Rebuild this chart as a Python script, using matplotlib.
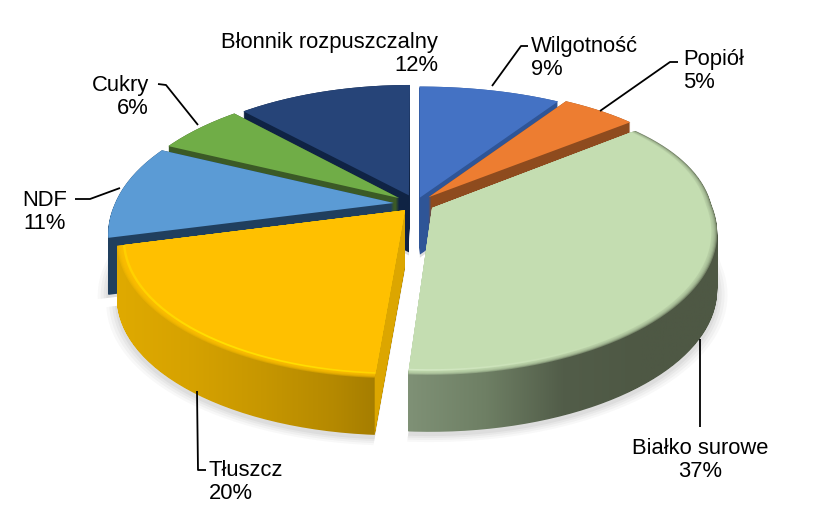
import numpy as np
import matplotlib
matplotlib.use("Agg")
import matplotlib.pyplot as plt
from matplotlib.transforms import Transform, Affine2D
from matplotlib.path import Path
from matplotlib.patches import PathPatch, Polygon
from matplotlib.colors import LinearSegmentedColormap

plt.rcParams['font.family'] = ['Liberation Sans', 'DejaVu Sans']

categories = ["Wilgotność", "Popiół", "Białko surowe", "Tłuszcz", "NDF", "Cukry", "Błonnik rozpuszczalny"]
values = [9, 5, 37, 20, 11, 6, 12]
top_colors = ["#4472C4", "#ED7D31", "#C4DDB1", "#FFC000", "#5B9BD5", "#70AD47", "#264478"]
side_colors = ["#2F5597", "#8E4B1E", "#535E49", "#C99A00", "#203F5E", "#3B5A26", "#0F2344"]
explode = [0.05, 0.068, 0.065, 0.06, 0.08, 0.075, 0.07]

CX, CY, RX, CC, K, KX_RIGHT, FRONT_SHEAR, DEPTH = 416, 204, 279, 134, 0.187, 0.09, 6, 57


def flatten(path):
    """Dense polygon of a wedge path given in unit-radius data coordinates."""
    return path.transformed(Affine2D().scale(400)).to_polygons(closed_only=True)[0] / 400


class Persp(Transform):
    input_dims = output_dims = 2
    is_separable = False
    has_inverse = False

    def __init__(self, dz=0):
        super().__init__()
        self.dz = dz

    def transform_non_affine(self, xy):
        xy = np.asarray(xy, float)
        x, y = xy[:, 0], xy[:, 1]
        w = 1 + K * y
        wx = np.where((x > 0) & (y > 0), 1 + KX_RIGHT * y, w)
        shear = FRONT_SHEAR * np.minimum(y, 0)
        return np.column_stack((CX + RX * x / wx + shear, CY - CC * y / w + self.dz))

    def transform_path_non_affine(self, path):
        return Path(self.transform_non_affine(flatten(path)), closed=True)


fig = plt.figure(figsize=(8.2, 5.11), dpi=100)
ax = fig.add_axes([0, 0, 1, 1])
wedges, _ = ax.pie(values, colors=top_colors, explode=explode, startangle=90,
                   counterclock=False, wedgeprops={"linewidth": 0})
ax.set_aspect("auto")
ax.set_xlim(0, 820)
ax.set_ylim(511, 0)
ax.axis("off")


def outline(w):
    return flatten(w.get_path())


def sweep_path(poly):
    verts, codes = [], []
    for d in np.arange(0, DEPTH + 0.5, 1.0):
        p = Persp(d).transform_non_affine(poly)
        verts.append(p)
        codes += [Path.MOVETO] + [Path.LINETO] * (len(p) - 2) + [Path.CLOSEPOLY]
    return Path(np.vstack(verts), codes)


# soft shadow below every slice
for w in wedges:
    for grow, a in [(1.035, 0.035), (1.025, 0.045), (1.015, 0.05), (1.006, 0.06)]:
        w.set_radius(grow)
        poly = outline(w)
        w.set_radius(1.0)
        p = Persp(DEPTH + 3).transform_non_affine(poly)
        ax.add_patch(Polygon(p, closed=True, fc="#404040", ec="none", alpha=a, zorder=1))

order = [6, 0, 1, 5, 4, 3, 2]
grad_stops = {
    2: ["#7F9176", "#6E7F64", "#525D49", "#4E5844", "#4E5844"],
    3: ["#DFAA00", "#D6A200", "#C79700", "#B58900", "#9A7500"],
}
cut_colors = {3: "#DCA600"}
rim_stops = {2: ["#D4E9C4", "#CBE2B9", "#C4DDB1", "#C4DDB1"], 3: ["#FFD000", "#FFE000", "#FFDD00", "#FFD000"]}

for rank, i in enumerate(order):
    w = wedges[i]
    base = 10 + 10 * rank
    poly = outline(w)
    path = sweep_path(poly)
    if i in grad_stops:
        cmap = LinearSegmentedColormap.from_list("g", grad_stops[i])
        x0, x1 = path.vertices[:, 0].min(), path.vertices[:, 0].max()
        y0, y1 = path.vertices[:, 1].min(), path.vertices[:, 1].max()
        im = ax.imshow(np.linspace(0, 1, 256)[None, :], cmap=cmap, aspect="auto",
                       extent=(x0, x1, y1, y0), zorder=base + 1)
        im.set_clip_path(path, ax.transData)
    else:
        ax.add_patch(PathPatch(path, fc=side_colors[i], ec="none", zorder=base + 1))
    if i in cut_colors:
        cx, cy = w.center
        t = np.deg2rad(w.theta2)
        pt = (cx + np.cos(t), cy + np.sin(t))
        q = np.array([(cx, cy), pt])
        a, b = Persp(0).transform_non_affine(q), Persp(DEPTH).transform_non_affine(q)
        ax.add_patch(Polygon(np.vstack((a, b[::-1])), closed=True, fc=cut_colors[i],
                             ec="none", zorder=base + 2))
    # top face: soft bevel towards the rim
    trans = Persp(0) + ax.transData
    if i in grad_stops:
        for n, r in enumerate(np.linspace(1.0, 0.982, 6)):
            w.set_radius(r)
            p = Persp(0).transform_non_affine(outline(w))
            ax.add_patch(Polygon(p, closed=True, fc=top_colors[i], ec="none", alpha=0.35,
                                 zorder=base + 3 + n * 0.01))
        w.set_radius(0.98)
        p = Persp(0).transform_non_affine(outline(w))
        clip = Path(p, closed=True)
        cmap = LinearSegmentedColormap.from_list("r", rim_stops[i])
        im = ax.imshow(np.linspace(0, 1, 256)[None, :], cmap=cmap, aspect="auto",
                       extent=(p[:, 0].min(), p[:, 0].max(), p[:, 1].max(), p[:, 1].min()),
                       zorder=base + 4)
        im.set_clip_path(clip, ax.transData)
        w.set_radius(0.972)
    w.set_transform(trans)
    w.set_clip_on(False)
    w.set_zorder(base + 5)

# leader lines
leaders = [
    [(492, 86), (521, 46), (528, 46)],
    [(600, 111), (670, 62), (678, 62)],
    [(700, 339), (700, 427)],
    [(197, 391), (198, 470), (206, 470)],
    [(120, 188), (90, 199), (75, 199)],
    [(198, 125), (166, 85), (158, 84)],
]
for pts in leaders:
    xs, ys = zip(*pts)
    ax.plot(xs, ys, color="black", lw=1.3, zorder=200, solid_capstyle="butt", scalex=False, scaley=False)

# labels
label_pos = [(531, 58, "left"), (683, 71, "left"), (700, 460, "center"),
             (209, 482, "left"), (45, 212, "center"), (149, 97, "right"), (438, 54, "right")]
for name, v, (x, y, ha) in zip(categories, values, label_pos):
    ax.text(x, y, f"{name}\n{v}%", ha=ha, va="center", fontsize=15.8, color="black",
            linespacing=1.15, zorder=210, multialignment=ha)

ax.set_xlim(0, 820)
ax.set_ylim(511, 0)
fig.savefig("out.png", dpi=100, facecolor="white")
